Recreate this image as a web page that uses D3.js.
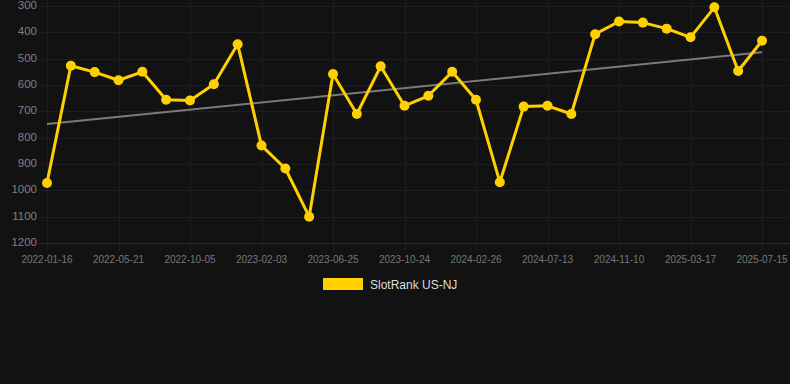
<!DOCTYPE html>
<html>
<head>
<meta charset="utf-8">
<script src="https://cdn.jsdelivr.net/npm/d3@7/dist/d3.min.js"></script>
<style>
  html, body { margin: 0; padding: 0; background: #121212; }
  svg { display: block; }
</style>
</head>
<body>
<svg id="chart" width="790" height="384"></svg>
<script>
// ---- data ----
const dates = [
  "2022-01-16","2022-02-26","2022-04-09","2022-05-21","2022-07-05","2022-08-20",
  "2022-10-05","2022-11-14","2022-12-25","2023-02-03","2023-03-20","2023-05-08",
  "2023-06-25","2023-08-03","2023-09-13","2023-10-24","2023-12-04","2024-01-15",
  "2024-02-26","2024-04-13","2024-05-28","2024-07-13","2024-08-22","2024-10-01",
  "2024-11-10","2024-12-23","2025-02-02","2025-03-17","2025-04-27","2025-06-05",
  "2025-07-15"
];
const ranks = [
  972, 527, 551, 582, 550, 656, 659, 597, 445, 830, 917, 1100, 558, 710, 529, 679,
  641, 550, 656, 969, 682, 679, 710, 407, 359, 363, 386, 419, 305, 547, 432
];
const yTicks = [300, 400, 500, 600, 700, 800, 900, 1000, 1100, 1200];
const seriesName = "SlotRank US-NJ";

// ---- layout ----
const svg = d3.select("#chart");
const W = 790;
const mLeft = 47, mRight = 762, mTop = 6, mBottom = 243;
const bg = "#121212";
const lineColor = "#FFD000";

const x = d3.scalePoint().domain(dates).range([mLeft, mRight]);
const y = d3.scaleLinear().domain([300, 1200]).range([mTop, mBottom]);

svg.append("rect").attr("width", W).attr("height", 384).attr("fill", bg);

// horizontal grid
svg.append("g").selectAll("line").data(yTicks).join("line")
  .attr("x1", 39).attr("x2", W)
  .attr("y1", d => Math.round(y(d)) + 0.5).attr("y2", d => Math.round(y(d)) + 0.5)
  .attr("stroke", d => d === 1200 ? "#2c2c2c" : "#1e1e1e")
  .attr("stroke-width", 1);

// vertical grid at labelled categories
const labelled = dates.filter((d, i) => i % 3 === 0);
svg.append("g").selectAll("line").data(labelled).join("line")
  .attr("x1", d => Math.round(x(d)) + 0.5).attr("x2", d => Math.round(x(d)) + 0.5)
  .attr("y1", 0).attr("y2", mBottom + 8)
  .attr("stroke", "#1e1e1e").attr("stroke-width", 1);

// y axis labels
svg.append("g").selectAll("text").data(yTicks).join("text")
  .attr("x", 37).attr("y", d => y(d))
  .attr("text-anchor", "end").attr("dominant-baseline", "middle")
  .attr("font-family", "Liberation Sans, Arial, sans-serif")
  .attr("font-size", "11.5px").attr("fill", "#808080")
  .text(d => d);

// x axis labels
svg.append("g").selectAll("text").data(labelled).join("text")
  .attr("x", d => x(d)).attr("y", 263)
  .attr("text-anchor", "middle")
  .attr("font-family", "Liberation Sans, Arial, sans-serif")
  .attr("font-size", "10px").attr("fill", "#777777")
  .text(d => d);

// trend line (least squares over index)
const n = ranks.length;
const mx = d3.mean(d3.range(n));
const my = d3.mean(ranks);
let sxy = 0, sxx = 0;
ranks.forEach((v, i) => { sxy += (i - mx) * (v - my); sxx += (i - mx) * (i - mx); });
const slope = sxy / sxx;
const icpt = my - slope * mx;
svg.append("line")
  .attr("x1", x(dates[0])).attr("y1", y(icpt))
  .attr("x2", x(dates[n - 1])).attr("y2", y(icpt + slope * (n - 1)))
  .attr("stroke", "#7a7a7a").attr("stroke-width", 2);

// series line
const line = d3.line().x((d, i) => x(dates[i])).y(d => y(d));
svg.append("path").datum(ranks)
  .attr("d", line).attr("fill", "none")
  .attr("stroke", lineColor).attr("stroke-width", 3)
  .attr("stroke-linejoin", "round");

// points
svg.append("g").selectAll("circle").data(ranks).join("circle")
  .attr("cx", (d, i) => x(dates[i])).attr("cy", d => y(d))
  .attr("r", 5).attr("fill", lineColor);

// legend
const lg = svg.append("g");
lg.append("rect").attr("x", 323).attr("y", 278).attr("width", 40).attr("height", 12)
  .attr("fill", lineColor);
lg.append("text").attr("x", 370).attr("y", 288.5)
  .attr("font-family", "Liberation Sans, Arial, sans-serif")
  .attr("font-size", "12px").attr("fill", "#dddddd")
  .text(seriesName);
</script>
</body>
</html>
